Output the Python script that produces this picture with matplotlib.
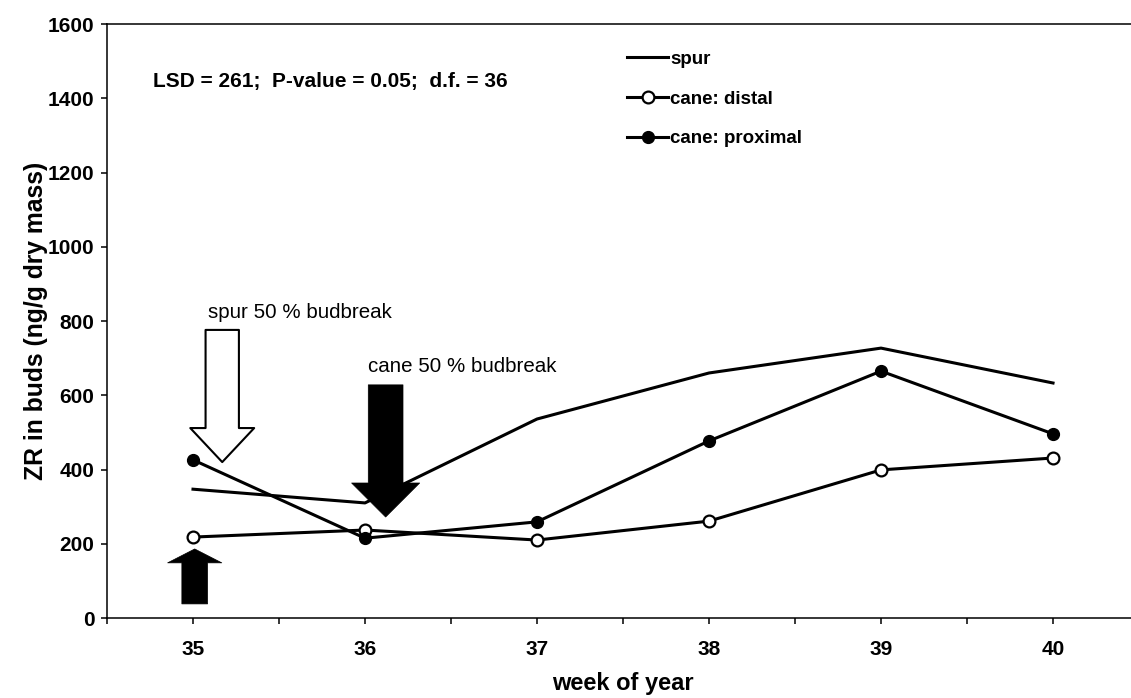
import matplotlib
matplotlib.use('Agg')
import matplotlib.pyplot as plt
from matplotlib.ticker import MultipleLocator

plt.rcParams['font.family'] = ['Liberation Sans', 'DejaVu Sans']

# data
weeks = [35, 36, 37, 38, 39, 40]
spur = [347, 310, 536, 660, 727, 633]
cane_distal = [218, 237, 210, 261, 399, 431]
cane_proximal = [426, 215, 259, 477, 665, 496]

fig = plt.figure(figsize=(11.31, 6.98), dpi=100)
ax = fig.add_axes([0.0946, 0.1146, 0.9125, 0.851])

ax.plot(weeks, spur, color='black', lw=2.2, label='spur', zorder=3)
ax.plot(weeks, cane_distal, color='black', lw=2.2, marker='o', ms=8.5,
        mfc='white', mec='black', mew=1.6, label='cane: distal', zorder=3)
ax.plot(weeks, cane_proximal, color='black', lw=2.2, marker='o', ms=8.5,
        mfc='black', mec='black', label='cane: proximal', zorder=3)

ax.set_xlim(34.5, 40.5)
ax.set_ylim(0, 1600)
ax.xaxis.set_major_locator(MultipleLocator(1))
ax.xaxis.set_minor_locator(MultipleLocator(0.5))
ax.yaxis.set_major_locator(MultipleLocator(200))
ax.tick_params(axis='both', which='both', direction='out', length=4, width=1.1)
ax.tick_params(axis='x', pad=12, labelsize=15)
ax.tick_params(axis='y', pad=5, labelsize=15)
for lab in ax.get_xticklabels() + ax.get_yticklabels():
    lab.set_fontweight('bold')

ax.spines['right'].set_visible(False)
for s in ['left', 'bottom', 'top']:
    ax.spines[s].set_linewidth(1.1)

ax.set_xlabel('week of year', fontsize=17, fontweight='bold', labelpad=9.5)
ax.set_ylabel('ZR in buds (ng/g dry mass)', fontsize=17.8, fontweight='bold', labelpad=0)

ax.text(35.0 - 40 / 172, 1444, 'LSD = 261;  P-value = 0.05;  d.f. = 36',
        fontsize=15, fontweight='bold', va='center', ha='left')

# budbreak arrows
ax.annotate('', xy=(35.17, 420), xytext=(35.17, 776),
            arrowprops=dict(arrowstyle='simple,head_length=24.5,head_width=46,tail_width=24',
                            mutation_scale=1, fc='white', ec='black', lw=1.5,
                            shrinkA=0, shrinkB=0), zorder=4)
ax.annotate('', xy=(36.12, 272), xytext=(36.12, 628),
            arrowprops=dict(arrowstyle='simple,head_length=24.5,head_width=49,tail_width=25',
                            mutation_scale=1, fc='black', ec='black', lw=0.5,
                            shrinkA=0, shrinkB=0), zorder=4)
ax.annotate('', xy=(35.01, 186), xytext=(35.01, 38),
            arrowprops=dict(arrowstyle='simple,head_length=10,head_width=39,tail_width=18.5',
                            mutation_scale=1, fc='black', ec='black', lw=0.5,
                            shrinkA=0, shrinkB=0), zorder=4)

ax.text(35.087, 822, 'spur 50 % budbreak', fontsize=14.8, va='center', ha='left')
ax.text(36.02, 678, 'cane 50 % budbreak', fontsize=14.8, va='center', ha='left')

leg = ax.legend(loc='upper left', bbox_to_anchor=(0.546, 0.9406),
                bbox_transform=fig.transFigure, frameon=False, borderpad=0,
                handlelength=2.2, handletextpad=0.1, labelspacing=1.2,
                prop={'size': 13.5, 'weight': 'bold'})

fig.savefig('out.png', dpi=100)
